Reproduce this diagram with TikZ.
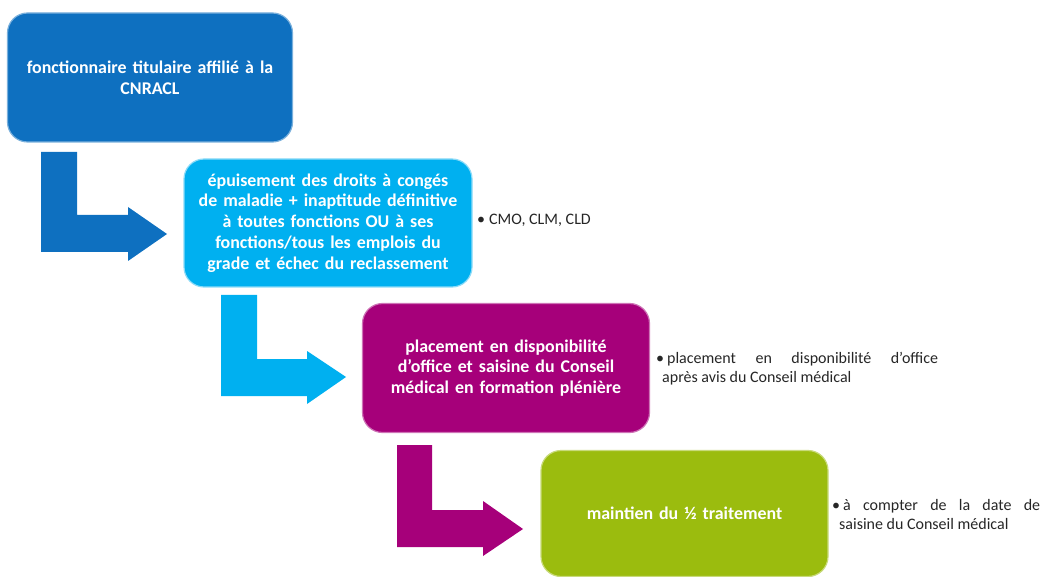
\documentclass[tikz,border=0pt]{standalone}
\usepackage{fontspec}
\setmainfont{Carlito}
\begin{document}
\begin{tikzpicture}[x=1pt,y=-1pt,
  stepbox/.style={rounded corners=20pt, minimum width=#1, inner sep=0pt, align=center,
     text=white, font=\fontsize{17.9}{20.8}\selectfont\bfseries, text width=278pt},
  sidetext/.style={anchor=west, inner sep=0pt, text=black!85, font=\fontsize{16}{19}\selectfont}]
\definecolor{cA}{RGB}{14,112,192}
\definecolor{cB}{RGB}{0,176,240}
\definecolor{cC}{RGB}{166,0,122}
\definecolor{cD}{RGB}{155,188,14}
\useasboundingbox (0,0) rectangle (1044,577);
% boxes
\node[stepbox=285pt, minimum height=129pt, fill=cA, draw=cA!55!white, line width=1.2pt] (b1) at (150,77.5)
  {fonctionnaire titulaire affilié à la\\CNRACL};
\node[stepbox=288pt, minimum height=128pt, fill=cB, draw=cB!45!white, line width=1.2pt] (b2) at (328,223)
  {épuisement des droits à congés\\de maladie + inaptitude définitive\\à toutes fonctions OU à ses\\fonctions/tous les emplois du\\grade et échec du reclassement};
\node[stepbox=287pt, minimum height=129pt, fill=cC, draw=cC!55!white, line width=1.2pt] (b3) at (506,368)
  {placement en disponibilité\\d’office et saisine du Conseil\\médical en formation plénière};
\node[stepbox=287pt, minimum height=126pt, fill=cD, draw=cD!55!white, line width=1.2pt] (b4) at (684.5,513.5)
  {maintien du ½ traitement};
% bent arrows
\fill[cA] (41,152) -- (77,152) -- (77,215) -- (128,215) -- (128,207) -- (167,234) -- (128,261) -- (128,252) -- (41,252) -- cycle;
\fill[cB] (221,295) -- (257,295) -- (257,359) -- (307,359) -- (307,351) -- (346,377) -- (307,404) -- (307,396) -- (221,396) -- cycle;
\fill[cC] (397,445) -- (432,445) -- (432,510) -- (483,510) -- (483,501) -- (523,529) -- (483,556) -- (483,547) -- (397,547) -- cycle;
% side notes
\node[sidetext] (n2) at (477,220) {\textbullet\hspace{4pt}CMO, CLM, CLD};
\node[sidetext, text width=282pt, align=justify] (n3) at (656,368.5)
  {\textbullet\hspace{3pt}placement en disponibilité d’office\linebreak\hspace*{6pt}après avis du Conseil médical};
\node[sidetext, text width=208pt, align=justify] (n4) at (832,514.5)
  {\textbullet\hspace{3pt}à compter de la date de\linebreak\hspace*{7pt}saisine du Conseil médical};
\end{tikzpicture}
\end{document}
